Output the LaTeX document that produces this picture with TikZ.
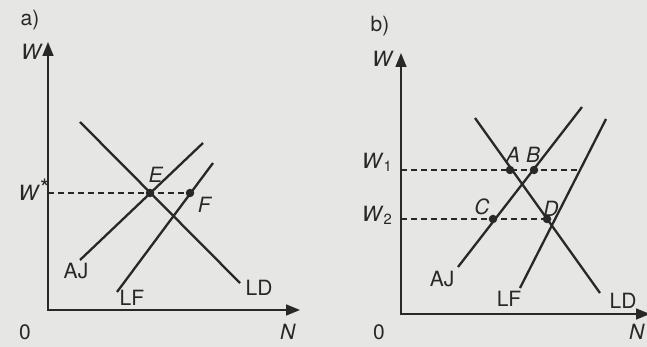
\documentclass[tikz,border=0pt]{standalone}
\usepackage{fontspec}
\setmainfont{TeX Gyre Heros}
\usetikzlibrary{arrows.meta}
\definecolor{bg}{RGB}{230,230,228}
\definecolor{ink}{RGB}{40,40,40}
\begin{document}
\begin{tikzpicture}[x=1pt,y=-1pt,
  axis/.style={ink, line width=1.6pt, {Triangle[length=14pt,width=11pt]}-{Triangle[length=14pt,width=11pt]}},
  curve/.style={ink, line width=2.3pt},
  guide/.style={ink, line width=1.3pt, dash pattern=on 6pt off 4pt},
  dot/.style={circle, fill=ink, inner sep=0pt, minimum size=8.5pt},
  lbl/.style={ink, font=\fontsize{21}{24}\selectfont, inner sep=0pt},
  ]
\fill[bg] (0,0) rectangle (647,347);
\useasboundingbox (0,0) rectangle (647,347);

% ---------- panel a ----------
\coordinate (aO) at (48,310);
\coordinate (aWtop) at (48,42);
\coordinate (aNend) at (300,310);
\draw[axis] (aWtop) -- (aO) -- (aNend);

\coordinate (aLD1) at (80,122);  \coordinate (aLD2) at (240,283);
\coordinate (aAJ1) at (80,260);  \coordinate (aAJ2) at (203,143);
\coordinate (aLF1) at (117,292); \coordinate (aLF2) at (213,163);
\draw[curve] (aLD1) -- (aLD2);
\draw[curve] (aAJ1) -- (aAJ2);
\draw[curve] (aLF1) -- (aLF2);

\coordinate (aWs) at (48,193);
\node[dot] (E) at (150,193) {};
\node[dot] (F) at (190,193) {};
\draw[guide] (aWs) -- (F);

\node[lbl] (alab) at (30,20) {a)};
\node[lbl] (aW) at (32,52) {\textit{W}};
\node[lbl] (aWstar) at (34,190) {\textit{W}\raisebox{0.35ex}{\fontsize{24}{24}\selectfont *}};
\node[lbl] (Elab) at (156,175) {\textit{E}};
\node[lbl] (Flab) at (205,205) {\textit{F}};
\node[lbl] (aAJ) at (76,271) {AJ};
\node[lbl] (aLF) at (132,298) {LF};
\node[lbl] (aLD) at (259,288) {LD};
\node[lbl] (a0) at (25,332) {0};
\node[lbl] (aN) at (288,332) {\textit{N}};

% ---------- panel b ----------
\coordinate (bO) at (401,314);
\coordinate (bWtop) at (401,53);
\coordinate (bNend) at (650,314);
\draw[axis] (bWtop) -- (bO) -- (bNend);

\coordinate (bLD1) at (475,118); \coordinate (bLD2) at (600,293);
\coordinate (bAJ1) at (458,267); \coordinate (bAJ2) at (582,107);
\coordinate (bLF1) at (520,288); \coordinate (bLF2) at (606,119);
\draw[curve] (bLD1) -- (bLD2);
\draw[curve] (bAJ1) -- (bAJ2);
\draw[curve] (bLF1) -- (bLF2);

\coordinate (bW1) at (401,170);
\coordinate (bW1end) at (578,170);
\coordinate (bW2) at (401,219);
\node[dot] (A) at (510,170) {};
\node[dot] (B) at (534,170) {};
\node[dot] (C) at (493,219) {};
\node[dot] (D) at (547,219) {};
\draw[guide] (bW1) -- (bW1end);
\draw[guide] (bW2) -- (D);

\node[lbl] (blab) at (380,26) {b)};
\node[lbl] (bW) at (383,59) {\textit{W}};
\node[lbl] (bW1lab) at (377,162) {\textit{W}\textsubscript{1}};
\node[lbl] (bW2lab) at (377,215) {\textit{W}\textsubscript{2}};
\node[lbl] (Alab) at (513,155) {\textit{A}};
\node[lbl] (Blab) at (533,155) {\textit{B}};
\node[lbl] (Clab) at (482,207) {\textit{C}};
\node[lbl] (Dlab) at (551,209) {\textit{D}};
\node[lbl] (bAJ) at (442,279) {AJ};
\node[lbl] (bLF) at (509,299) {LF};
\node[lbl] (bLD) at (623,301) {LD};
\node[lbl] (b0) at (379,332) {0};
\node[lbl] (bN) at (637,332) {\textit{N}};
\end{tikzpicture}
\end{document}
